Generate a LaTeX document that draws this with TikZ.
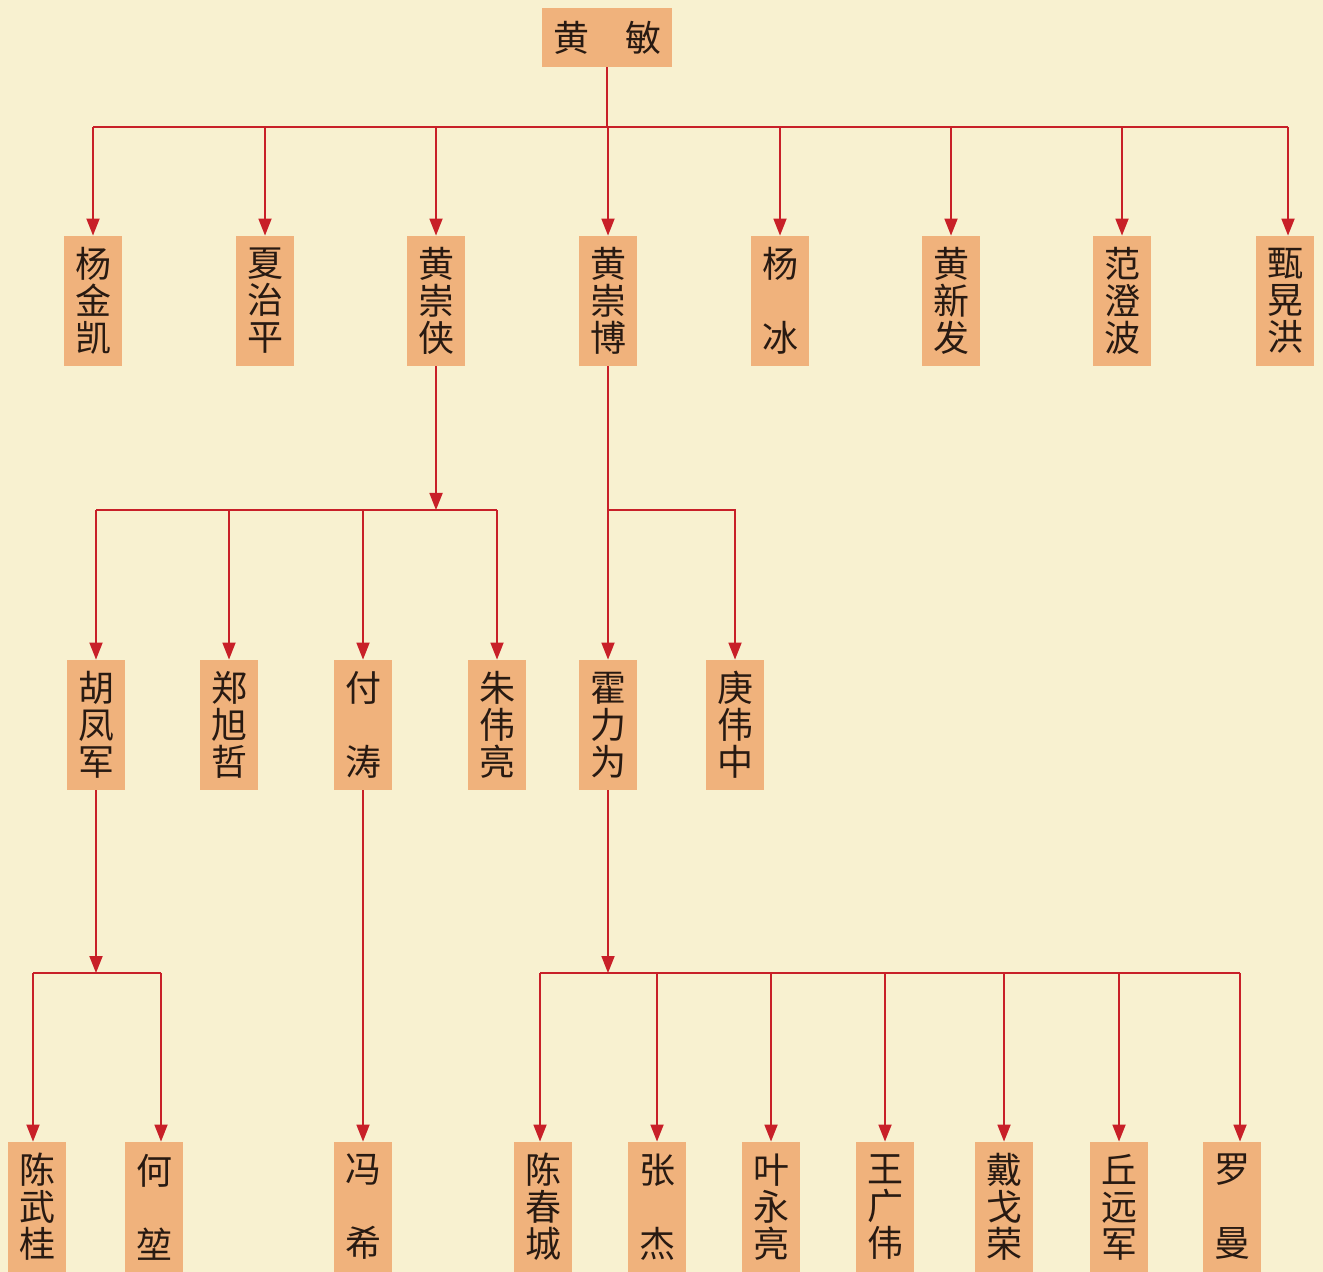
\documentclass[tikz,border=0pt]{standalone}
\usepackage{fontspec}
\newfontfamily\cjk{Noto Sans CJK SC}
\usetikzlibrary{arrows.meta}
\definecolor{paper}{RGB}{248,241,208}
\definecolor{boxfill}{RGB}{240,178,124}
\definecolor{linkred}{RGB}{200,32,40}
\definecolor{ink}{RGB}{40,26,18}
\begin{document}
\begin{tikzpicture}[x=0.5pt, y=-0.5pt]
\tikzset{person/.style={fill=boxfill, minimum width=29pt, minimum height=65pt, inner sep=0pt, align=center, text=ink, font=\cjk\fontsize{18}{18.5}\selectfont},
  link/.style={draw=linkred, line width=0.9pt},
  arr/.style={link, -{Triangle[length=8.5pt, width=6.5pt]}}}
% paper
\fill[paper] (0,0) rectangle (1323,1272);
\useasboundingbox (0,0) rectangle (1323,1272);
% root
\node[person, minimum width=65pt, minimum height=29.5pt] (hm) at (607,37.5) {黄\quad 敏};
% level 1
\foreach \x/\n/\t in {93/yjk/杨\\金\\凯, 265/xzp/夏\\治\\平, 436/hcx/黄\\崇\\侠, 608/hcb/黄\\崇\\博, 780/yb/杨\\\mbox{}\\冰, 951/hxf/黄\\新\\发, 1122/fcb/范\\澄\\波, 1285/zhh/甄\\晃\\洪}
  \node[person] (\n) at (\x,301) {\t};
% level 2
\foreach \x/\n/\t in {96/hfj/胡\\凤\\军, 229/zxz/郑\\旭\\哲, 363/ft/付\\\mbox{}\\涛, 497/zwl/朱\\伟\\亮, 608/hlw/霍\\力\\为, 735/gwz/庚\\伟\\中}
  \node[person] (\n) at (\x,725) {\t};
% level 3
\foreach \x/\n/\t in {37/cwg/陈\\武\\桂, 154/hk/何\\\mbox{}\\堃, 363/fx/冯\\\mbox{}\\希, 543/ccc/陈\\春\\城, 657/zj/张\\\mbox{}\\杰, 771/yyl/叶\\永\\亮, 885/wgw/王\\广\\伟, 1004/dgr/戴\\戈\\荣, 1119/qyj/丘\\远\\军, 1232/lm/罗\\\mbox{}\\曼}
  \node[person] (\n) at (\x,1207) {\t};
% bars
\coordinate (bar0) at (607,127);
\coordinate (bar1) at (436,510);
\coordinate (bar2) at (608,510);
\coordinate (bar3) at (96,973);
\coordinate (bar4) at (608,973);
% root to level 1
\draw[link] (hm) -- (bar0);
\draw[link] (yjk |- bar0) -- ([xshift=1.5pt]zhh.north |- bar0);
\foreach \n in {yjk,xzp,hcx,hcb,yb,hxf,fcb} \draw[arr] (\n |- bar0) -- (\n);
\draw[arr] ([xshift=1.5pt]zhh.north |- bar0) -- ([xshift=1.5pt]zhh.north);
% huang chongxia
\draw[arr] (hcx) -- (bar1);
\draw[link] (hfj |- bar1) -- (zwl |- bar1);
\foreach \n in {hfj,zxz,ft,zwl} \draw[arr] (\n |- bar1) -- (\n);
% huang chongbo
\draw[arr] (hcb) -- (hlw);
\draw[arr] (bar2) -| (gwz);
% level 2 to level 3
\draw[arr] (hfj) -- (bar3);
\draw[link] ([xshift=-2pt]cwg.north |- bar3) -- ([xshift=3.5pt]hk.north |- bar3);
\draw[arr] ([xshift=-2pt]cwg.north |- bar3) -- ([xshift=-2pt]cwg.north);
\draw[arr] ([xshift=3.5pt]hk.north |- bar3) -- ([xshift=3.5pt]hk.north);
\draw[arr] (ft) -- (fx);
\draw[arr] (hlw) -- (bar4);
\draw[link] ([xshift=-1.5pt]ccc.north |- bar4) -- ([xshift=4pt]lm.north |- bar4);
\draw[arr] ([xshift=-1.5pt]ccc.north |- bar4) -- ([xshift=-1.5pt]ccc.north);
\foreach \n in {zj,yyl,wgw,dgr,qyj} \draw[arr] (\n |- bar4) -- (\n);
\draw[arr] ([xshift=4pt]lm.north |- bar4) -- ([xshift=4pt]lm.north);
\end{tikzpicture}
\end{document}
